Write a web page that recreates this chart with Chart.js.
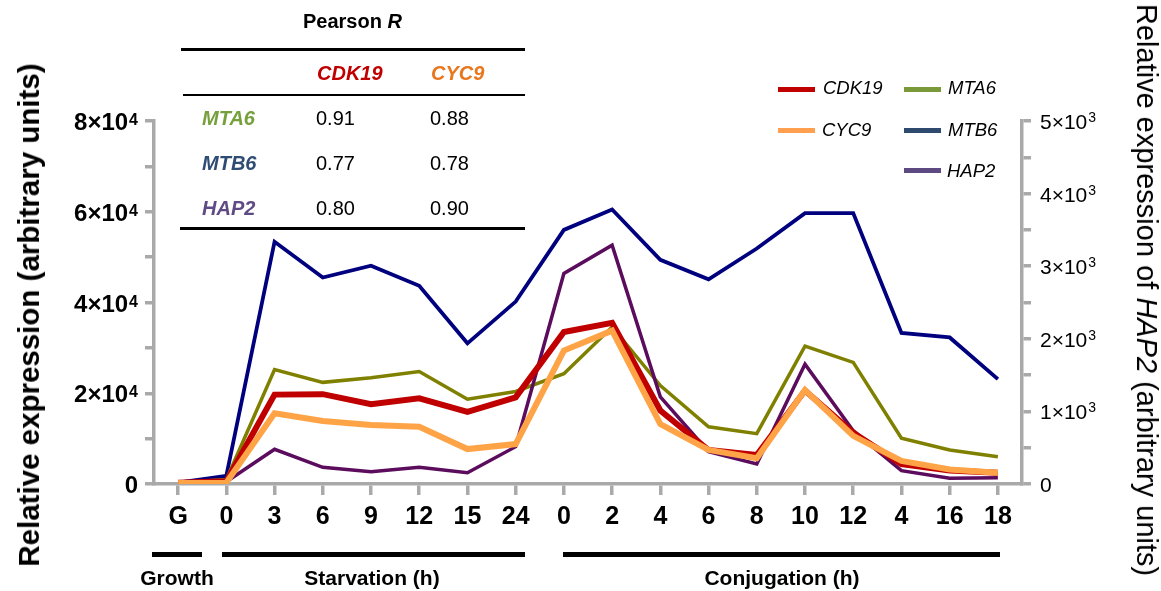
<!DOCTYPE html>
<html>
<head>
<meta charset="utf-8">
<script src="https://cdn.jsdelivr.net/npm/chart.js@4.4.1/dist/chart.umd.min.js"></script>
<style>
  html, body { margin: 0; padding: 0; background: #fff; }
  #wrap { position: relative; width: 1161px; height: 591px; overflow: hidden; background: #fff;
          font-family: "Liberation Sans", Arial, sans-serif; }
  #c { position: absolute; left: 0; top: 0; }
  .t { position: absolute; white-space: nowrap; line-height: 1; color: #000; }
  .b { font-weight: bold; }
  .bi { font-weight: bold; font-style: italic; }
  .hr { position: absolute; background: #000; }
  .lg { position: absolute; height: 5px; width: 37px; }
  .lt { position: absolute; white-space: nowrap; line-height: 1; font-style: italic; font-size: 18.5px; color: #000; }
  .rot { position: absolute; white-space: nowrap; line-height: 1; transform-origin: 0 0; }
</style>
</head>
<body>
<div id="wrap">
  <canvas id="c" width="1161" height="591"></canvas>

  <!-- Pearson R table -->
  <div class="t b" style="left:303px;top:11px;font-size:20px;">Pearson <i>R</i></div>
  <div class="hr" style="left:181px;top:48px;width:344px;height:3px;"></div>
  <div class="t bi" style="left:317px;top:63px;font-size:20px;color:#c00000;">CDK19</div>
  <div class="t bi" style="left:431px;top:63px;font-size:20px;color:#e8771e;">CYC9</div>
  <div class="hr" style="left:183px;top:94px;width:342px;height:1.5px;"></div>
  <div class="t bi" style="left:202px;top:108px;font-size:20px;color:#76a03c;">MTA6</div>
  <div class="t" style="left:316px;top:108px;font-size:20px;">0.91</div>
  <div class="t" style="left:430px;top:108px;font-size:20px;">0.88</div>
  <div class="t bi" style="left:202px;top:153px;font-size:20px;color:#2f4d74;">MTB6</div>
  <div class="t" style="left:316px;top:153px;font-size:20px;">0.77</div>
  <div class="t" style="left:430px;top:153px;font-size:20px;">0.78</div>
  <div class="t bi" style="left:202px;top:198px;font-size:20px;color:#5f4a86;">HAP2</div>
  <div class="t" style="left:316px;top:198px;font-size:20px;">0.80</div>
  <div class="t" style="left:430px;top:198px;font-size:20px;">0.90</div>
  <div class="hr" style="left:180px;top:227px;width:345px;height:3px;"></div>

  <!-- Legend -->
  <div class="lg" style="left:778px;top:87px;background:#c00000;"></div>
  <div class="lt" style="left:823px;top:79px;">CDK19</div>
  <div class="lg" style="left:904px;top:87px;background:#7a9a3a;"></div>
  <div class="lt" style="left:948px;top:79px;">MTA6</div>
  <div class="lg" style="left:778px;top:128px;background:#ffa050;"></div>
  <div class="lt" style="left:822px;top:121px;">CYC9</div>
  <div class="lg" style="left:904px;top:128px;background:#2e4a6e;"></div>
  <div class="lt" style="left:948px;top:121px;">MTB6</div>
  <div class="lg" style="left:904px;top:168px;background:#5e4a82;"></div>
  <div class="lt" style="left:947px;top:162px;">HAP2</div>

  <!-- Axis titles -->
  <div class="rot b" style="left:14px;top:315px;font-size:29.5px;transform:rotate(-90deg) translate(-50%,0);">Relative expression (arbitrary units)</div>
  <div class="rot" style="left:1161px;top:290px;font-size:29px;transform:rotate(90deg) translate(-50%,0);">Relative expression of <i>HAP2</i> (arbitrary units)</div>

  <!-- Group bars and labels -->
  <div class="hr" style="left:152px;top:552px;width:50px;height:5px;"></div>
  <div class="hr" style="left:222px;top:552px;width:303px;height:5px;"></div>
  <div class="hr" style="left:563px;top:552px;width:437px;height:5px;"></div>
  <div class="t b" style="left:177px;top:567px;font-size:21px;transform:translateX(-50%);">Growth</div>
  <div class="t b" style="left:372px;top:567px;font-size:21px;transform:translateX(-50%);">Starvation (h)</div>
  <div class="t b" style="left:782px;top:567px;font-size:21px;transform:translateX(-50%);">Conjugation (h)</div>
</div>

<script>
// ---- Data ----
const categories = ['G','0','3','6','9','12','15','24','0','2','4','6','8','10','12','4','16','18'];
const cdk19 = [300, 600, 19700, 19800, 17600, 18900, 15900, 19100, 33500, 35500, 16200, 7500, 6400, 20600, 11300, 4400, 3000, 2500];
const cyc9  = [200, 300, 15600, 13900, 13000, 12600, 7700, 8800, 29400, 33800, 13200, 7500, 5700, 20700, 10600, 5100, 3200, 2500];
const mta6  = [300, 1000, 25200, 22400, 23400, 24800, 18700, 20400, 24300, 34600, 21700, 12600, 11100, 30400, 26800, 10100, 7500, 6000];
const mtb6  = [300, 1800, 53400, 45500, 48100, 43700, 31000, 40200, 56000, 60500, 49400, 45100, 51900, 59700, 59700, 33300, 32300, 23100];
const hap2  = [20, 30, 478, 230, 169, 230, 156, 514, 2900, 3290, 1200, 445, 275, 1650, 734, 183, 78, 87];

const leftTickValues = [0, 20000, 40000, 60000, 80000];
const leftTickBases  = ['0', '2×10', '4×10', '6×10', '8×10'];
const leftTickExps   = ['', '4', '4', '4', '4'];
const rightTickValues = [0, 1000, 2000, 3000, 4000, 5000];
const rightTickBases  = ['0', '1×10', '2×10', '3×10', '4×10', '5×10'];
const rightTickExps   = ['', '3', '3', '3', '3', '3'];

const AXIS = '#a9a9a9';
const FONT = '"Liberation Sans", Arial, sans-serif';

const tickLabelPlugin = {
  id: 'tickLabels',
  afterDraw(chart) {
    const ctx = chart.ctx;
    ctx.save();
    ctx.fillStyle = '#000';
    ctx.textBaseline = 'alphabetic';
    const ys = chart.scales.y;
    leftTickValues.forEach((v, i) => {
      const py = ys.getPixelForValue(v);
      const rightX = ys.right - 16;
      ctx.font = 'bold 16px ' + FONT;
      const ew = leftTickExps[i] ? ctx.measureText(leftTickExps[i]).width : 0;
      if (leftTickExps[i]) { ctx.textAlign = 'right'; ctx.fillText(leftTickExps[i], rightX, py + 4); }
      ctx.font = 'bold 24px ' + FONT;
      ctx.textAlign = 'right';
      ctx.fillText(leftTickBases[i], rightX - ew - (ew ? 1 : 0), py + 9);
    });
    const yr = chart.scales.y1;
    rightTickValues.forEach((v, i) => {
      const py = yr.getPixelForValue(v);
      const leftX = yr.left + 18;
      ctx.font = '21px ' + FONT;
      ctx.textAlign = 'left';
      ctx.fillText(rightTickBases[i], leftX, py + 8);
      const bw = ctx.measureText(rightTickBases[i]).width;
      if (rightTickExps[i]) {
        ctx.font = '14px ' + FONT;
        ctx.fillText(rightTickExps[i], leftX + bw + 1, py + 1);
      }
    });
    ctx.restore();
  }
};

const mk = (data, color, width, axis) => ({
  data, borderColor: color, backgroundColor: color, borderWidth: width,
  pointRadius: 0, pointHoverRadius: 0, tension: 0, yAxisID: axis, fill: false,
  borderJoinStyle: 'miter', borderCapStyle: 'butt'
});

new Chart(document.getElementById('c'), {
  type: 'line',
  data: {
    labels: categories,
    datasets: [
      Object.assign(mk(cyc9, '#ffa347', 6, 'y'), { label: 'CYC9' }),
      Object.assign(mk(cdk19, '#c00000', 6, 'y'), { label: 'CDK19' }),
      Object.assign(mk(hap2, '#5c0c5c', 3.5, 'y1'), { label: 'HAP2' }),
      Object.assign(mk(mta6, '#808000', 3.5, 'y'), { label: 'MTA6' }),
      Object.assign(mk(mtb6, '#00007f', 3.8, 'y'), { label: 'MTB6' })
    ]
  },
  options: {
    responsive: false,
    animation: false,
    devicePixelRatio: 1,
    layout: { padding: { top: 121, left: 0, right: 0, bottom: 0 } },
    plugins: { legend: { display: false }, tooltip: { enabled: false } },
    events: [],
    scales: {
      x: {
        type: 'category',
        offset: true,
        grid: { drawOnChartArea: false, drawTicks: true, tickLength: 11, color: AXIS, lineWidth: 3.5, offset: false },
        border: { color: AXIS, width: 3.5 },
        ticks: { color: '#000', font: { family: FONT, size: 25, weight: 'bold' }, padding: 7, maxRotation: 0, autoSkip: false },
        afterFit(s) { s.height = 107; }
      },
      y: {
        position: 'left',
        min: 0, max: 80000,
        grid: { drawOnChartArea: false, drawTicks: true, tickLength: 9, color: AXIS, lineWidth: 3.5 },
        border: { color: AXIS, width: 3.5 },
        ticks: { stepSize: 10000, autoSkip: false, callback: () => '' },
        afterFit(s) { s.width = 154; }
      },
      y1: {
        position: 'right',
        min: 0, max: 5000,
        grid: { drawOnChartArea: false, drawTicks: true, tickLength: 9, color: AXIS, lineWidth: 3.5 },
        border: { color: AXIS, width: 3.5 },
        ticks: { stepSize: 500, autoSkip: false, callback: () => '' },
        afterFit(s) { s.width = 139; }
      }
    }
  },
  plugins: [tickLabelPlugin]
});
</script>
</body>
</html>
